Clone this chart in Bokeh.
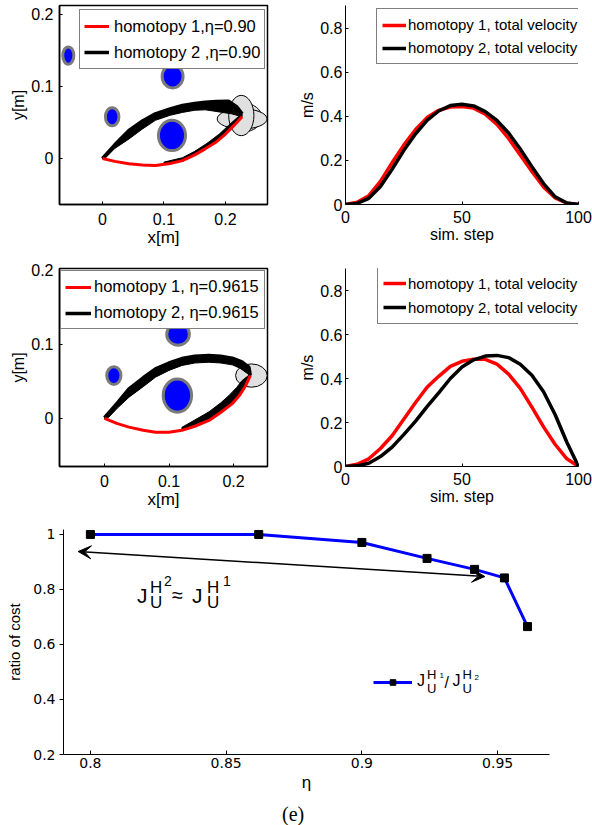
from bokeh.plotting import figure
from bokeh.models import (Range1d, FixedTicker, Legend, LegendItem, Arrow, VeeHead,
                          Div, ColumnDataSource)
from bokeh.layouts import column, row
from bokeh.core.properties import value
from bokeh.embed import file_html
from bokeh.resources import INLINE

# ------------------------------------------------------------------ data
# panel 1 : trajectories, eta = 0.90
a_obst_x = [-0.0556, 0.114, 0.0157, 0.113]
a_obst_y = [0.143, 0.114, 0.058, 0.032]
a_obst_w = [0.018, 0.034, 0.022, 0.044]
a_obst_h = [0.024, 0.032, 0.025, 0.042]
a_goal_x = [0.229, 0.227, 0.2257]
a_goal_y = [0.057, 0.055, 0.0597]
a_goal_w = [0.060, 0.081, 0.041]
a_goal_h = [0.040, 0.028, 0.056]
a_red_x = [0, 0.02, 0.043, 0.065, 0.086, 0.11, 0.13, 0.15, 0.167, 0.185, 0.2, 0.215, 0.227]
a_red_y = [0, -0.004, -0.0074, -0.0092, -0.0097, -0.007, -0.003, 0.005, 0.0134, 0.023, 0.034, 0.047, 0.058]
a_band_up_x = [0, 0.02, 0.043, 0.065, 0.086, 0.11, 0.13, 0.15, 0.167, 0.185, 0.205, 0.218, 0.227]
a_band_up_y = [0, 0.019, 0.039, 0.052, 0.062, 0.069, 0.0736, 0.0765, 0.078, 0.079, 0.0796, 0.072, 0.062]
a_band_lo_x = [0.227, 0.21, 0.195, 0.18, 0.167, 0.15, 0.13, 0.11, 0.086, 0.065, 0.043, 0.02, 0.004]
a_band_lo_y = [0.058, 0.062, 0.064, 0.066, 0.0676, 0.067, 0.064, 0.06, 0.053, 0.041, 0.027, 0.014, 0]
a_band2_x = [0.1, 0.13, 0.15, 0.17, 0.19, 0.205, 0.218, 0.227, 0.215, 0.2, 0.185, 0.167, 0.15, 0.13, 0.11, 0.1]
a_band2_y = [-0.005, 0.001, 0.010, 0.021, 0.034, 0.046, 0.056, 0.062, 0.047, 0.034, 0.023, 0.0134, 0.005, -0.003, -0.007, -0.008]

# panel 3 : trajectories, eta = 0.9615
b_obst_x = [-0.0556, 0.114, 0.0145, 0.113]
b_obst_y = [0.143, 0.114, 0.058, 0.031]
b_obst_w = [0.018, 0.035, 0.022, 0.044]
b_obst_h = [0.024, 0.030, 0.024, 0.045]
b_goal_x = [0.2277]
b_goal_y = [0.058]
b_goal_w = [0.049]
b_goal_h = [0.0315]
b_red_x = [0, 0.02, 0.038, 0.06, 0.079, 0.1, 0.12, 0.14, 0.162, 0.18, 0.198, 0.21, 0.219, 0.226]
b_red_y = [0, -0.007, -0.0117, -0.016, -0.0185, -0.0185, -0.016, -0.0105, -0.0027, 0.008, 0.02, 0.032, 0.0446, 0.058]
b_band_up_x = [0, 0.02, 0.038, 0.06, 0.079, 0.1, 0.12, 0.14, 0.162, 0.18, 0.198, 0.214, 0.224, 0.226]
b_band_up_y = [0.001, 0.021, 0.040, 0.055, 0.067, 0.075, 0.081, 0.084, 0.085, 0.084, 0.0815, 0.076, 0.069, 0.058]
b_band_lo_x = [0.226, 0.21, 0.198, 0.18, 0.162, 0.14, 0.12, 0.1, 0.079, 0.06, 0.038, 0.02, 0.0067, 0]
b_band_lo_y = [0.058, 0.068, 0.0725, 0.075, 0.076, 0.075, 0.0716, 0.065, 0.0558, 0.043, 0.0288, 0.014, 0.0018, 0]
b_band2_x = [0.12, 0.14, 0.162, 0.18, 0.193, 0.205, 0.213, 0.226, 0.219, 0.21, 0.198, 0.18, 0.162, 0.14, 0.12]
b_band2_y = [-0.012, -0.002, 0.009, 0.021, 0.031, 0.042, 0.051, 0.06, 0.0446, 0.032, 0.02, 0.008, -0.0027, -0.0105, -0.016]

# velocity panels
steps = [0, 5, 10, 15, 20, 25, 30, 35, 40, 45, 50, 55, 60, 65, 70, 75, 80, 85, 90, 95, 100]
v1_red = [0, 0.010, 0.040, 0.105, 0.190, 0.270, 0.340, 0.395, 0.428, 0.443, 0.445, 0.438, 0.410, 0.364, 0.300, 0.225, 0.150, 0.080, 0.030, 0.006, 0]
v1_black = [0, 0.005, 0.028, 0.082, 0.160, 0.245, 0.320, 0.382, 0.425, 0.450, 0.456, 0.448, 0.422, 0.382, 0.325, 0.252, 0.172, 0.095, 0.035, 0.007, 0]
v2_red = [0, 0.010, 0.035, 0.082, 0.140, 0.215, 0.290, 0.360, 0.410, 0.455, 0.478, 0.488, 0.487, 0.465, 0.420, 0.355, 0.270, 0.180, 0.100, 0.035, 0]
v2_black = [0, 0.003, 0.015, 0.045, 0.088, 0.145, 0.205, 0.272, 0.335, 0.400, 0.452, 0.485, 0.502, 0.505, 0.495, 0.465, 0.415, 0.340, 0.235, 0.110, 0]

# cost ratio panel
eta = [0.8, 0.862, 0.9, 0.924, 0.9415, 0.9525, 0.961]
ratio = [1.0, 1.0, 0.971, 0.913, 0.873, 0.842, 0.665]
arrow_from = (0.9453, 0.847)
arrow_to = (0.7955, 0.938)

# tick labels
xy_ticks = [0, 0.1, 0.2]
xy_labels = ["0", "0.1", "0.2"]
step_ticks = [0, 50, 100]
step_labels = ["0", "50", "100"]
vel_ticks = [0, 0.2, 0.4, 0.6, 0.8]
vel_labels = ["0", "0.2", "0.4", "0.6", "0.8"]
eta_ticks = [0.8, 0.85, 0.9, 0.95]
eta_labels = ["0.8", "0.85", "0.9", "0.95"]
ratio_ticks = [0.2, 0.4, 0.6, 0.8, 1.0]
ratio_labels = ["0.2", "0.4", "0.6", "0.8", "1"]

# ------------------------------------------------------------------ styles
SANS = "Liberation Sans"
RED = "#ff0000"
BLUE = "#0000ff"


def make_fig(w, h, xr, yr, bl, br, bt, bb):
    p = figure(width=w, height=h, x_range=Range1d(*xr), y_range=Range1d(*yr),
               output_backend="svg", toolbar_location=None,
               min_border_left=bl, min_border_right=br,
               min_border_top=bt, min_border_bottom=bb)
    p.grid.visible = False
    return p


def style_axis(ax, ticks, labels, font, size, lab_font, lab_size,
               t_in, t_out, std, lab_std, lw):
    ax.ticker = FixedTicker(ticks=ticks)
    ax.major_label_overrides = dict(zip(ticks, labels))
    ax.minor_tick_line_color = None
    ax.major_tick_in = t_in
    ax.major_tick_out = t_out
    ax.major_tick_line_width = 1
    ax.major_label_standoff = std
    ax.major_label_text_font = font
    ax.major_label_text_font_size = size
    ax.major_label_text_color = "black"
    ax.axis_label_text_font = lab_font
    ax.axis_label_text_font_size = lab_size
    ax.axis_label_text_font_style = "normal"
    ax.axis_label_text_color = "black"
    ax.axis_label_standoff = lab_std
    ax.axis_line_width = lw
    ax.axis_line_color = "black"


def legend_for(p, items, loc, pad, gw, gh, lw, lh, sp, std, fsize):
    lg = Legend(items=items, location=loc, padding=pad, spacing=sp,
                glyph_width=gw, glyph_height=gh, label_width=lw, label_height=lh,
                label_standoff=std, margin=0,
                label_text_font=SANS, label_text_font_size=fsize,
                label_text_color="black",
                border_line_color="black", border_line_width=1,
                background_fill_color="white", background_fill_alpha=1)
    p.add_layout(lg)


def traj_panel(xr, yr, bt, fh, bb, ox, oy, ow, oh, gx, gy, gw, gh, rx, ry,
               ux, uy, lx, ly, b2x, b2y, labels, loc, lpad, lgw, llw, llh, lsp, lstd,
               tstd, xstd):
    p = make_fig(296, bt + fh + bb, xr, yr, 59, 29, bt, bb)
    p.outline_line_color = "black"
    p.outline_line_width = 1.5
    p.ellipse(x=ox, y=oy, width=ow, height=oh, fill_color=BLUE,
              line_color="#7a7a7a", line_width=3)
    p.ellipse(x=gx, y=gy, width=gw, height=gh, fill_color="#e0e0e0",
              line_color="black", line_width=1)
    p.patch(x=ux + lx, y=uy + ly, fill_color="black", line_color="black", line_width=1)
    p.patch(x=b2x, y=b2y, fill_color="black", line_color="black", line_width=1)
    rb = p.line(x=ux, y=uy, line_color="black", line_width=3.5)
    rr = p.line(x=rx, y=ry, line_color=RED, line_width=3)
    style_axis(p.xaxis[0], xy_ticks, xy_labels, SANS, "16px", SANS, "17px",
               3, 0, tstd, xstd, 1.5)
    style_axis(p.yaxis[0], xy_ticks, xy_labels, SANS, "16px", SANS, "16px",
               3, 0, 6, 1, 1.5)
    p.xaxis.axis_label = "x[m]"
    p.yaxis.axis_label = "y[m]"
    legend_for(p, [LegendItem(label=labels[0], renderers=[rr]),
                   LegendItem(label=labels[1], renderers=[rb])],
               loc, lpad, lgw, 20, llw, llh, lsp, lstd, "16.5px")
    return p


def vel_panel(bt, fh, bb, ytop, red, black, loc, lpad, lgw, llw, llh, lsp, lstd):
    p = make_fig(296, bt + fh + bb, (0, 100), (0, ytop), 47, 14, bt, bb)
    p.outline_line_color = None
    rr = p.line(x=steps, y=red, line_color=RED, line_width=3.5)
    rb = p.line(x=steps, y=black, line_color="black", line_width=3.5)
    style_axis(p.xaxis[0], step_ticks, step_labels, SANS, "16px", SANS, "16px",
               3, 0, 6, 0, 1)
    style_axis(p.yaxis[0], vel_ticks, vel_labels, SANS, "16px", SANS, "16px",
               3, 0, 3, 1, 1)
    p.xaxis.axis_label = "sim. step"
    p.yaxis.axis_label = "m/s"
    legend_for(p, [LegendItem(label="homotopy 1, total velocity", renderers=[rr]),
                   LegendItem(label="homotopy 2, total velocity", renderers=[rb])],
               loc, lpad, lgw, 20, llw, llh, lsp, lstd, "15px")
    return p


# ------------------------------------------------------------------ row 1
p1 = traj_panel((-0.0699, 0.2683), (-0.0639, 0.2125), 5, 199, 54,
                a_obst_x, a_obst_y, a_obst_w, a_obst_h,
                a_goal_x, a_goal_y, a_goal_w, a_goal_h,
                a_red_x, a_red_y, a_band_up_x, a_band_up_y, a_band_lo_x, a_band_lo_y,
                a_band2_x, a_band2_y,
                ["homotopy 1,\u03b7=0.90", "homotopy 2 ,\u03b7=0.90"],
                (20, 135), 4, 25, 146, 24, 2, 5, 8, 0)
p2 = vel_panel(5, 199, 54, 0.9045, v1_red, v1_black, (31, 140), 5, 24, 163, 21, 2, 2)

# ------------------------------------------------------------------ row 2
p3 = traj_panel((-0.0698, 0.2527), (-0.0649, 0.2027), 10, 198, 46,
                b_obst_x, b_obst_y, b_obst_w, b_obst_h,
                b_goal_x, b_goal_y, b_goal_w, b_goal_h,
                b_red_x, b_red_y, b_band_up_x, b_band_up_y, b_band_lo_x, b_band_lo_y,
                b_band2_x, b_band2_y,
                ["homotopy 1, \u03b7=0.9615", "homotopy 2, \u03b7=0.9615"],
                (1, 137), 4, 26, 166, 23, 3, 3, 8, 0)
p4 = vel_panel(10, 198, 46, 0.9, v2_red, v2_black, (32, 142), 5, 23, 165, 22, 2, 2)

# ------------------------------------------------------------------ row 3
p5 = make_fig(592, 283, (0.7901, 0.9691), (0.2, 1.018), 63, 43, 17, 41)
p5.outline_line_color = None
l5 = p5.line(x=eta, y=ratio, line_color=BLUE, line_width=3)
s5 = p5.scatter(x=eta, y=ratio, marker="square", size=8, fill_color="black",
                line_color="black")
style_axis(p5.xaxis[0], eta_ticks, eta_labels, "DejaVu Sans", "14px", SANS, "17px",
           4, 0, 3, 2, 1)
style_axis(p5.yaxis[0], ratio_ticks, ratio_labels, "DejaVu Sans", "14px", SANS, "15px",
           0, 4, 4, 7, 1)
p5.xaxis.axis_label = "\u03b7"
p5.yaxis.axis_label = "ratio of cost"
p5.add_layout(Arrow(start=VeeHead(size=13, fill_color="black", line_color="black"),
                    end=VeeHead(size=13, fill_color="black", line_color="black"),
                    x_start=arrow_from[0], y_start=arrow_from[1],
                    x_end=arrow_to[0], y_end=arrow_to[1],
                    line_color="black", line_width=1.5))
lg5 = Legend(items=[LegendItem(label=" ", renderers=[l5, s5])], location=(310, 65),
             padding=0, spacing=0, glyph_width=39, glyph_height=14, label_width=0,
             label_height=14, label_standoff=0, margin=0, label_text_font_size="8px",
             border_line_color=None, background_fill_alpha=0)
p5.add_layout(lg5)

# annotation  J_U^{H^2} ~ J_U^{H^1}   (anchor in data units, pieces offset in px)
ann_anchor = (0.8172, 0.778)
ann = ColumnDataSource(dict(
    x=[ann_anchor[0]] * 9, y=[ann_anchor[1]] * 9,
    text=["J", "U", "H", "2", "\u2248", "J", "U", "H", "1"],
    dx=[0, 13, 13, 27, 35, 55, 70, 70, 86],
    dy=[0, 7, -8, -15, -1, 0, 7, -8, -15],
    fs=["21px", "17px", "17px", "14px", "20px", "21px", "17px", "17px", "14px"]))
p5.text(x="x", y="y", text="text", x_offset="dx", y_offset="dy", text_font_size="fs",
        source=ann, text_font=value(SANS), text_align="left",
        text_baseline="alphabetic", text_color="black")

# legend label  J_U^{H_1}/J_U^{H_2}
leg_anchor = (0.9203, 0.469)
leg = ColumnDataSource(dict(
    x=[leg_anchor[0]] * 9, y=[leg_anchor[1]] * 9,
    text=["J", "H", "U", "1", "/", "J", "H", "U", "2"],
    dx=[0, 10, 10, 22.5, 27.5, 35.5, 45.5, 45.5, 57.5],
    dy=[0, -6.5, 8, -5, 2, 0, -6.5, 8, -3.5],
    fs=["16px", "13px", "13px", "8px", "16px", "16px", "13px", "13px", "8px"]))
p5.text(x="x", y="y", text="text", x_offset="dx", y_offset="dy", text_font_size="fs",
        source=leg, text_font=value(SANS), text_align="left",
        text_baseline="alphabetic", text_color="black")

caption = Div(text='<div style="font-family:\'Liberation Serif\',serif;font-size:20px;'
                   'line-height:22px;margin-top:3px;margin-left:277px;">(e)</div>',
              width=592, height=30)

layout = column(row(p1, p2), row(p3, p4), p5, caption)

with open("out.html", "w") as f:
    f.write(file_html(layout, INLINE))
